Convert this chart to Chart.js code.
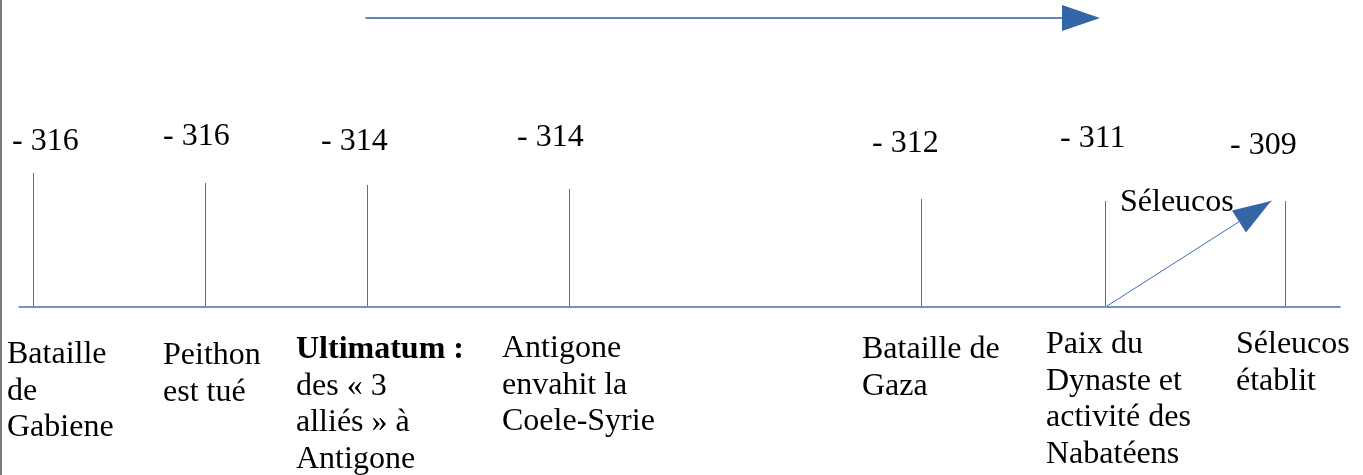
<!DOCTYPE html>
<html>
<head>
<meta charset="utf-8">
<script src="https://cdn.jsdelivr.net/npm/chart.js@4/dist/chart.umd.min.js"></script>
<style>
  html, body { margin: 0; padding: 0; background: #fff; }
  #wrap { width: 1363px; height: 475px; }
</style>
</head>
<body>
<div id="wrap"><canvas id="timeline" width="1363" height="475"></canvas></div>
<script>
// timeline data
const eventYears = ["- 316", "- 316", "- 314", "- 314", "- 312", "- 311", "- 309"];
const eventPos = [33, 205, 367, 569, 921, 1105, 1285];      // position along the timeline
const tickHeights = [134, 124, 122, 118, 108, 106, 106];    // height of each marker above the axis
const eventLabels = [
  ["Bataille", "de", "Gabiene"],
  ["Peithon", "est tué"],
  ["Ultimatum :", "des « 3", "alliés » à", "Antigone"],
  ["Antigone", "envahit la", "Coele-Syrie"],
  ["Bataille de", "Gaza"],
  ["Paix du", "Dynaste et", "activité des", "Nabatéens"],
  ["Séleucos", "établit"],
];
const boldLines = [[], [], [0], [], [], [], []];
const axisRange = [18, 1340];
const periodArrow = [365, 1100];
const periodLevel = 289;
const seleucosArrow = { from: [1105, 0], to: [1271, 106], label: "Séleucos" };

// layout for the texts (pixels)
const yearAt = [[12, 150], [163, 145], [321, 150], [517, 146], [872, 152], [1060, 147], [1230, 154]];
const labelAt = [[7, 363], [163, 364], [296, 358], [502, 357], [862, 358], [1046, 353], [1236, 353]];
const lineGap = 36.5;
const FONT = '"Liberation Serif", "Times New Roman", serif';
const SIZE = "32px ";

const seg = (a, b) => [{ x: a[0], y: a[1] }, { x: b[0], y: b[1] }];

const datasets = [
  { data: seg([axisRange[0], 0], [axisRange[1], 0]), borderColor: "#6f93cc", borderWidth: 2 },
  { data: seg([periodArrow[0], periodLevel], [periodArrow[1] - 30, periodLevel]), borderColor: "#5b84c4", borderWidth: 2 },
  { data: seg(seleucosArrow.from, seleucosArrow.to), borderColor: "#3f6db5", borderWidth: 1 },
  ...eventPos.map((p, i) => ({
    data: seg([p, 0], [p, tickHeights[i]]),
    borderColor: "#4a72b0",
    borderWidth: 1,
  })),
];

function arrowHead(ctx, x0, y0, x1, y1) {
  const a = Math.atan2(y1 - y0, x1 - x0);
  const len = 38, hw = 13;
  const bx = x1 - len * Math.cos(a), by = y1 - len * Math.sin(a);
  ctx.beginPath();
  ctx.moveTo(x1, y1);
  ctx.lineTo(bx + hw * Math.sin(a), by - hw * Math.cos(a));
  ctx.lineTo(bx - hw * Math.sin(a), by + hw * Math.cos(a));
  ctx.closePath();
  ctx.fillStyle = "#3465a4";
  ctx.fill();
}

const decorations = {
  id: "decorations",
  beforeDraw(chart) {
    const ctx = chart.ctx;
    ctx.save();
    ctx.fillStyle = "#fff";
    ctx.fillRect(0, 0, chart.width, chart.height);
    ctx.strokeStyle = "#7a7a7a";
    ctx.lineWidth = 2;
    ctx.beginPath();
    ctx.moveTo(1, 0);
    ctx.lineTo(1, chart.height);
    ctx.stroke();
    ctx.restore();
  },
  beforeDatasetsDraw(chart) {
    // crisp 1px strokes
    chart.ctx.save();
    chart.ctx.translate(0.5, 0);
  },
  afterDatasetsDraw(chart) {
    const { ctx, scales: { x, y } } = chart;
    ctx.restore();
    ctx.save();
    arrowHead(ctx,
      x.getPixelForValue(periodArrow[0]), y.getPixelForValue(periodLevel),
      x.getPixelForValue(periodArrow[1]), y.getPixelForValue(periodLevel));
    arrowHead(ctx,
      x.getPixelForValue(seleucosArrow.from[0]), y.getPixelForValue(seleucosArrow.from[1]),
      x.getPixelForValue(seleucosArrow.to[0]), y.getPixelForValue(seleucosArrow.to[1]));

    ctx.fillStyle = "#000";
    ctx.textBaseline = "alphabetic";
    ctx.textAlign = "left";
    ctx.font = SIZE + FONT;
    eventYears.forEach((t, i) => ctx.fillText(t, yearAt[i][0], yearAt[i][1]));
    ctx.fillText(seleucosArrow.label, 1120, 211);

    eventLabels.forEach((lines, i) => {
      lines.forEach((line, j) => {
        ctx.font = (boldLines[i].includes(j) ? "bold " : "") + SIZE + FONT;
        ctx.fillText(line, labelAt[i][0], labelAt[i][1] + j * lineGap);
      });
    });
    ctx.restore();
  },
};

new Chart(document.getElementById("timeline"), {
  type: "scatter",
  data: { datasets: datasets.map(d => ({ ...d, showLine: true, pointRadius: 0, fill: false })) },
  options: {
    responsive: false,
    animation: false,
    events: [],
    layout: { padding: 0 },
    plugins: { legend: { display: false }, tooltip: { enabled: false } },
    scales: {
      x: { type: "linear", min: 0, max: 1363, display: false },
      y: { type: "linear", min: -168, max: 307, display: false },
    },
  },
  plugins: [decorations],
});
</script>
</body>
</html>
